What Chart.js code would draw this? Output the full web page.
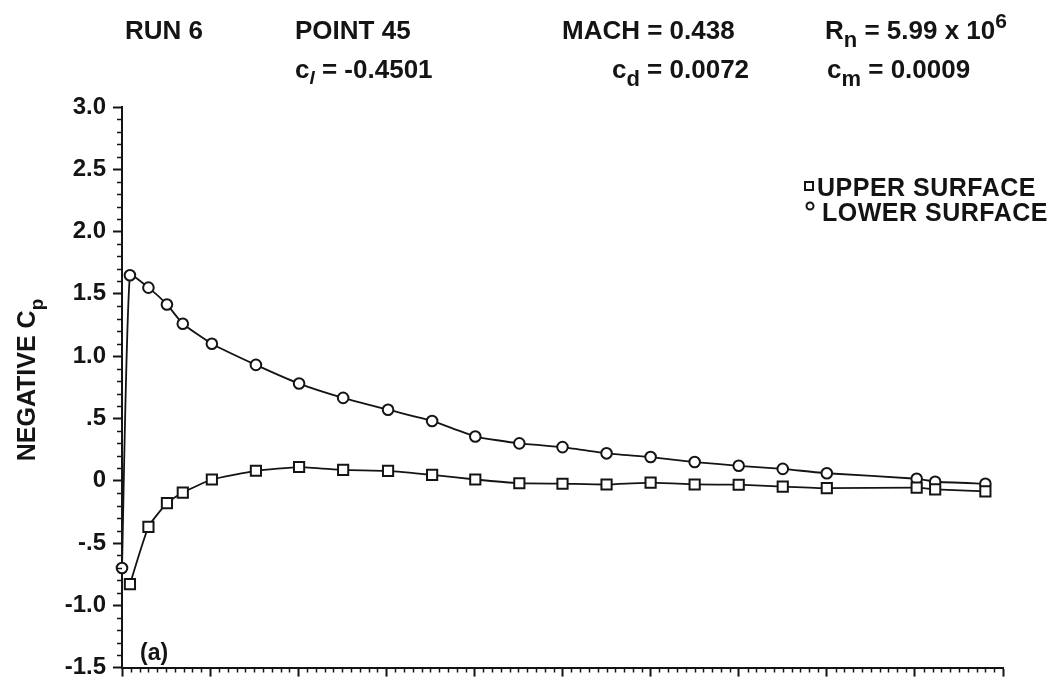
<!DOCTYPE html>
<html>
<head>
<meta charset="utf-8">
<title>Pressure distribution</title>
<script src="https://cdn.jsdelivr.net/npm/chart.js@4.4.1/dist/chart.umd.min.js"></script>
<style>
  html, body { margin: 0; padding: 0; background: #fff; }
  #wrap { width: 1060px; height: 689px; }
</style>
</head>
<body>
<div id="wrap"><canvas id="chart" width="1060" height="689"></canvas></div>
<script>
'use strict';

// chordwise stations x/c
let upperX = [0.009, 0.030, 0.051, 0.069, 0.102, 0.152, 0.201, 0.251, 0.302, 0.352, 0.401,
  0.451, 0.500, 0.550, 0.600, 0.650, 0.700, 0.750, 0.800, 0.902, 0.923, 0.980];
let lowerX = [0.000, 0.009, 0.030, 0.051, 0.069, 0.102, 0.152, 0.201, 0.251, 0.302, 0.352, 0.401,
  0.451, 0.500, 0.550, 0.600, 0.650, 0.700, 0.750, 0.800, 0.902, 0.923, 0.980];

// negative Cp
let upperCp = [-0.83, -0.37, -0.18, -0.095, 0.01, 0.08, 0.11, 0.087, 0.079, 0.047, 0.01,
  -0.02, -0.024, -0.03, -0.015, -0.03, -0.032, -0.047, -0.06, -0.055, -0.07, -0.085];
let lowerCp = [-0.70, 1.65, 1.55, 1.415, 1.26, 1.10, 0.93, 0.78, 0.665, 0.57, 0.48, 0.355,
  0.30, 0.27, 0.22, 0.19, 0.15, 0.12, 0.095, 0.06, 0.016, -0.008, -0.024];

let yTickValues = [3.0, 2.5, 2.0, 1.5, 1.0, 0.5, 0, -0.5, -1.0, -1.5];
let yTickLabels = ['3.0', '2.5', '2.0', '1.5', '1.0', '.5', '0', '-.5', '-1.0', '-1.5'];

const INK = '#141414';
const FONT = '"Liberation Sans", Arial, Helvetica, sans-serif';

function toPoints(xs, ys) {
  return xs.map((x, i) => ({ x: x, y: ys[i] }));
}

function isMajor(v, step) {
  let r = v / step;
  return Math.abs(r - Math.round(r)) < 1e-6;
}

// draws runs of text with sub/superscripts: [text, size, dy, italic]
function richText(ctx, x, y, parts) {
  for (let p of parts) {
    ctx.font = (p[3] ? 'italic ' : '') + 'bold ' + p[1] + 'px ' + FONT;
    ctx.fillText(p[0], x, y + p[2]);
    x += ctx.measureText(p[0]).width;
  }
}

const decorations = {
  id: 'decorations',
  afterDraw(chart) {
    let ctx = chart.ctx;
    let area = chart.chartArea;
    let xs = chart.scales.x;
    let ys = chart.scales.y;
    ctx.save();
    ctx.strokeStyle = INK;
    ctx.fillStyle = INK;

    // short minor ticks
    ctx.lineWidth = 1.5;
    ctx.beginPath();
    for (let t of ys.ticks) {
      if (isMajor(t.value, 0.5)) continue;
      let py = Math.round(ys.getPixelForValue(t.value)) + 0.5;
      ctx.moveTo(area.left - 5, py);
      ctx.lineTo(area.left, py);
    }
    for (let t of xs.ticks) {
      if (isMajor(t.value, 0.1)) continue;
      let px = Math.round(xs.getPixelForValue(t.value)) + 0.5;
      ctx.moveTo(px, area.bottom);
      ctx.lineTo(px, area.bottom + 5);
    }
    ctx.stroke();

    ctx.textBaseline = 'alphabetic';
    ctx.textAlign = 'left';

    // header block
    richText(ctx, 125, 39, [['RUN 6', 26, 0]]);
    richText(ctx, 295, 39, [['POINT 45', 26, 0]]);
    richText(ctx, 562, 39, [['MACH = 0.438', 26, 0]]);
    richText(ctx, 825, 39, [['R', 26, 0], ['n', 22, 8], [' = 5.99 x 10', 26, 0], ['6', 21, -11]]);
    richText(ctx, 295, 78, [['c', 26, 0], ['l', 19, 6, true], [' = -0.4501', 26, 0]]);
    richText(ctx, 612, 78, [['c', 26, 0], ['d', 22, 8], [' = 0.0072', 26, 0]]);
    richText(ctx, 827, 78, [['c', 26, 0], ['m', 22, 8], [' = 0.0009', 26, 0]]);

    // legend
    ctx.lineWidth = 2;
    ctx.strokeRect(805, 182, 8, 8);
    ctx.beginPath();
    ctx.arc(810, 206, 3.5, 0, Math.PI * 2);
    ctx.stroke();
    ctx.letterSpacing = '0.5px';
    richText(ctx, 817, 196, [['UPPER SURFACE', 25, 0]]);
    richText(ctx, 822, 221, [['LOWER SURFACE', 25, 0]]);
    ctx.letterSpacing = '0px';

    // panel tag
    richText(ctx, 140, 660, [['(a)', 23, 0]]);

    // y-axis title
    ctx.translate(35, 380);
    ctx.rotate(-Math.PI / 2);
    ctx.font = 'bold 25px ' + FONT;
    let w1 = ctx.measureText('NEGATIVE C').width;
    ctx.font = 'bold 19px ' + FONT;
    let w2 = ctx.measureText('p').width;
    richText(ctx, -(w1 + w2) / 2, 0, [['NEGATIVE C', 25, 0], ['p', 19, 8]]);

    ctx.restore();
  }
};

function renderChart() {
  let canvasElem = document.getElementById('chart');

  let lineStyle = {
    borderColor: INK,
    borderWidth: 1.8,
    pointBackgroundColor: '#fff',
    pointBorderColor: INK,
    pointBorderWidth: 2,
    tension: 0.15,
    clip: false
  };

  let chartObj = {
    type: 'line',
    data: {
      datasets: [
        Object.assign({
          label: 'UPPER SURFACE',
          data: toPoints(upperX, upperCp),
          pointStyle: 'rect',
          pointRadius: 7.2
        }, lineStyle),
        Object.assign({
          label: 'LOWER SURFACE',
          data: toPoints(lowerX, lowerCp),
          pointStyle: 'circle',
          pointRadius: 5.3
        }, lineStyle)
      ]
    },
    options: {
      responsive: false,
      animation: false,
      layout: { padding: { top: 107, right: 57, left: 0, bottom: 0 } },
      plugins: {
        legend: { display: false },
        tooltip: { enabled: false }
      },
      scales: {
        x: {
          type: 'linear',
          min: 0,
          max: 1,
          border: { display: true, color: INK, width: 2 },
          grid: {
            drawOnChartArea: false,
            drawTicks: true,
            tickLength: 9,
            tickWidth: 2,
            tickColor: (c) => (c.tick && isMajor(c.tick.value, 0.1)) ? INK : 'rgba(0,0,0,0)'
          },
          ticks: { stepSize: 0.01, autoSkip: false, display: false },
          afterFit: (scale) => { scale.height = 12; }
        },
        y: {
          min: -1.5,
          max: 3.0,
          border: { display: true, color: INK, width: 2 },
          grid: {
            drawOnChartArea: false,
            drawTicks: true,
            tickLength: 9,
            tickWidth: 2,
            tickColor: (c) => (c.tick && isMajor(c.tick.value, 0.5)) ? INK : 'rgba(0,0,0,0)'
          },
          ticks: {
            stepSize: 0.1,
            autoSkip: false,
            padding: 7,
            color: INK,
            font: { family: FONT, size: 24, weight: 'bold' },
            callback: (v) => {
              let i = yTickValues.findIndex((t) => Math.abs(t - v) < 1e-6);
              return i >= 0 ? yTickLabels[i] : '';
            }
          },
          afterFit: (scale) => { scale.width = 122; }
        }
      }
    },
    plugins: [decorations]
  };

  new Chart(canvasElem, chartObj); //eslint-disable-line
}

renderChart();
</script>
</body>
</html>
